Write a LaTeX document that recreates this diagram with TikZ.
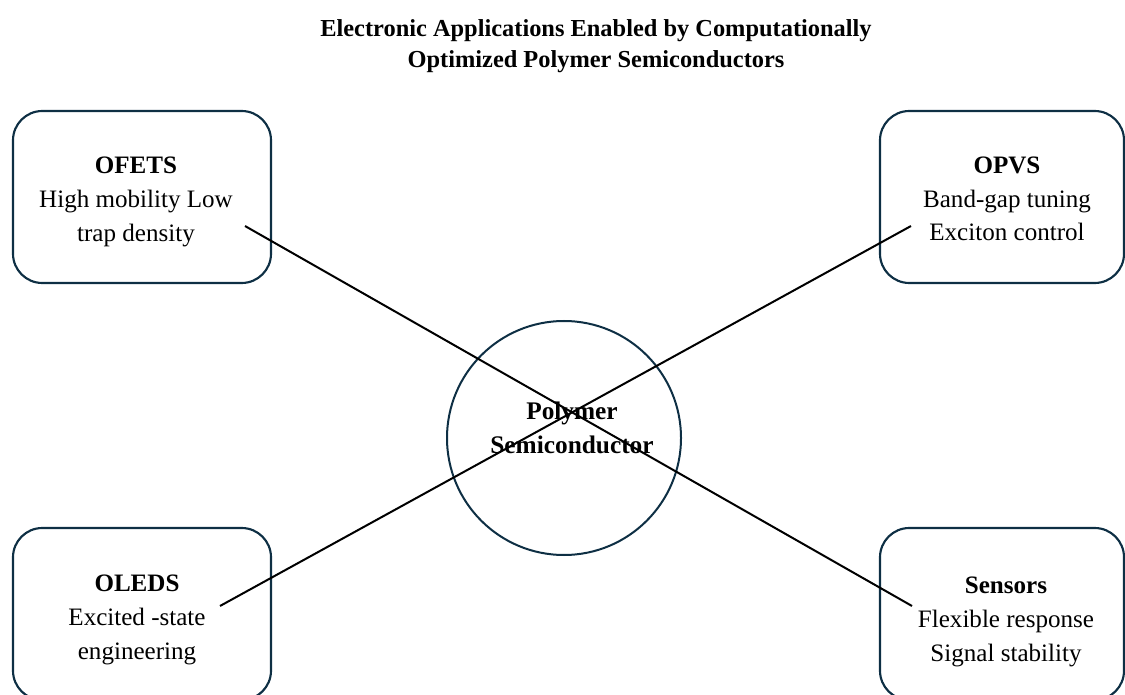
\documentclass[tikz,border=0pt]{standalone}
\usepackage{fontspec}
\setmainfont{Liberation Serif}
\definecolor{navy}{HTML}{0E2F44}
\begin{document}
\begin{tikzpicture}[x=0.75pt,y=-0.75pt,
  appbox/.style={draw=navy,line width=1.6pt,rounded corners=22pt,
    minimum width=193.5pt,minimum height=129pt},
  apptext/.style={align=center,font=\fontsize{18.8}{25.2}\selectfont},
  hub/.style={draw=navy,line width=1.5pt,circle,minimum size=175.5pt},
  hubtext/.style={align=center,font=\fontsize{19}{26}\selectfont\bfseries},
  link/.style={black,line width=1.5pt},
  heading/.style={align=center,font=\fontsize{18.3}{23.3}\selectfont\bfseries}]
\useasboundingbox (0,0) rectangle (1125,695);
\clip (0,0) rectangle (1125,695);

\node[heading] (title) at (596,46)
  {Electronic Applications Enabled by Computationally\\Optimized Polymer Semiconductors};

% application boxes
\node[appbox] (ofets) at (142,197) {};
\node[appbox,minimum width=183pt] (opvs) at (1002,197) {};
\node[appbox] (oleds) at (142,614) {};
\node[appbox,minimum width=183pt] (sensors) at (1002,614) {};

\node[apptext] (ofetsText) at (136,202) {\textbf{OFETS}\\High mobility Low\\trap density};
\node[apptext] (opvsText) at (1007,199) {\textbf{OPVS}\\Band-gap tuning\\Exciton control};
\node[apptext] (oledsText) at (137,620) {\textbf{OLEDS}\\Excited -state\\engineering};
\node[apptext] (sensorsText) at (1006,622) {\textbf{Sensors}\\Flexible response\\Signal stability};

% central material
\node[hub] (core) at (564,438) {};
\node[hubtext] (coreText) at (572,428) {Polymer\\Semiconductor};

\coordinate (ofetsEnd) at (245,226);
\coordinate (sensorsEnd) at (912,606);
\coordinate (oledsEnd) at (220,606);
\coordinate (opvsEnd) at (911,226);

\draw[link] (ofetsEnd) -- (sensorsEnd);
\draw[link] (oledsEnd) -- (opvsEnd);
\end{tikzpicture}
\end{document}
